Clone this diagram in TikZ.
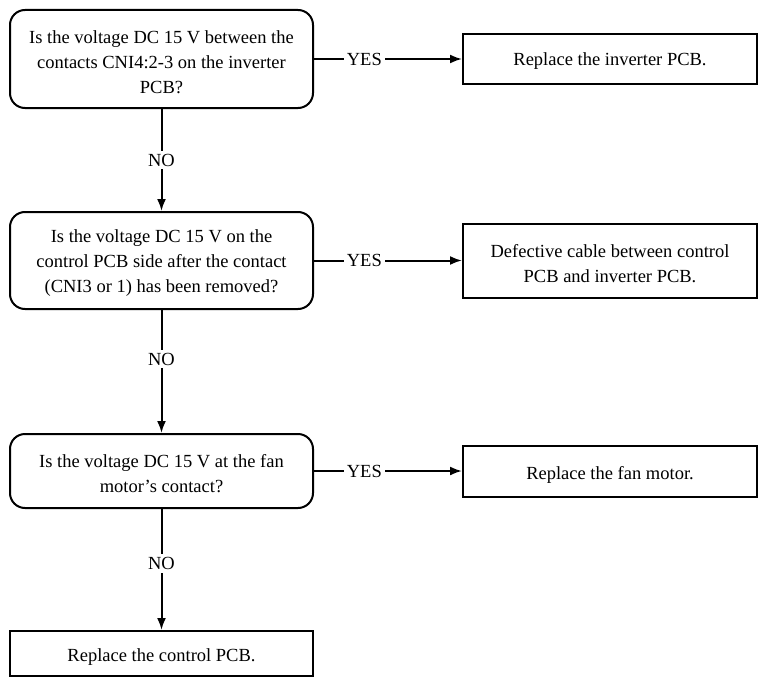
\documentclass[tikz,border=0pt]{standalone}
\usepackage{fontspec}
\setmainfont{Liberation Serif}
\usetikzlibrary{arrows.meta}
\begin{document}
\begin{tikzpicture}[x=1pt,y=-1pt,
  every node/.style={font=\fontsize{18.5}{25}\selectfont},
  qbox/.style={draw, line width=2pt, rounded corners=15pt, minimum width=303pt, inner sep=0pt},
  abox/.style={draw, line width=2pt, minimum width=294pt, inner sep=0pt},
  fbox/.style={draw, line width=2pt, minimum width=303pt, inner sep=0pt},
  txt/.style={align=center, inner sep=0pt},
  lbl/.style={fill=white, inner sep=3pt}
]
\useasboundingbox (0,0) rectangle (760,677);
\node[qbox, minimum height=98pt] (b1) at (161.5,59) {};
\node[txt] (t1) at ([yshift=-3.5pt]b1.center) {Is the voltage DC 15 V between the\\contacts CNI4:2-3 on the inverter\\PCB?};
\node[abox, minimum height=50pt] (r1) at (610,59) {};
\node[txt] (s1) at ([yshift=-2.5pt]r1.center) {Replace the inverter PCB.};
\node[qbox, minimum height=97pt] (b2) at (161.5,260.5) {};
\node[txt] (t2) at ([yshift=-3pt]b2.center) {Is the voltage DC 15 V on the\\control PCB side after the contact\\(CNI3 or 1) has been removed?};
\node[abox, minimum height=74pt] (r2) at (610,261) {};
\node[txt] (s2) at ([yshift=-3pt]r2.center) {Defective cable between control\\PCB and inverter PCB.};
\node[qbox, minimum height=74pt] (b3) at (161.5,471) {};
\node[txt] (t3) at ([yshift=-3pt]b3.center) {Is the voltage DC 15 V at the fan\\motor’s contact?};
\node[abox, minimum height=51pt] (r3) at (610,471.5) {};
\node[txt] (s3) at ([yshift=-3pt]r3.center) {Replace the fan motor.};
\node[fbox, minimum height=45pt] (b4) at (161.5,653.5) {};
\node[txt] (t4) at ([yshift=-4pt]b4.center) {Replace the control PCB.};

\begin{scope}[line width=2pt, -{Latex[length=12pt,width=9pt]}]
\draw (b1.east) -- (b1.east -| r1.west) node[lbl, pos=0.34] (y1) {YES};
\draw (b2.east) -- (b2.east -| r2.west) node[lbl, pos=0.34] (y2) {YES};
\draw (b3.east) -- (b3.east -| r3.west) node[lbl, pos=0.34] (y3) {YES};
\draw (b1.south) -- (b2.north) node[lbl, pos=0.5] (n1) {NO};
\draw (b2.south) -- (b3.north) node[lbl, pos=0.4] (n2) {NO};
\draw (b3.south) -- (b4.north) node[lbl, pos=0.45] (n3) {NO};
\end{scope}
\end{tikzpicture}
\end{document}
